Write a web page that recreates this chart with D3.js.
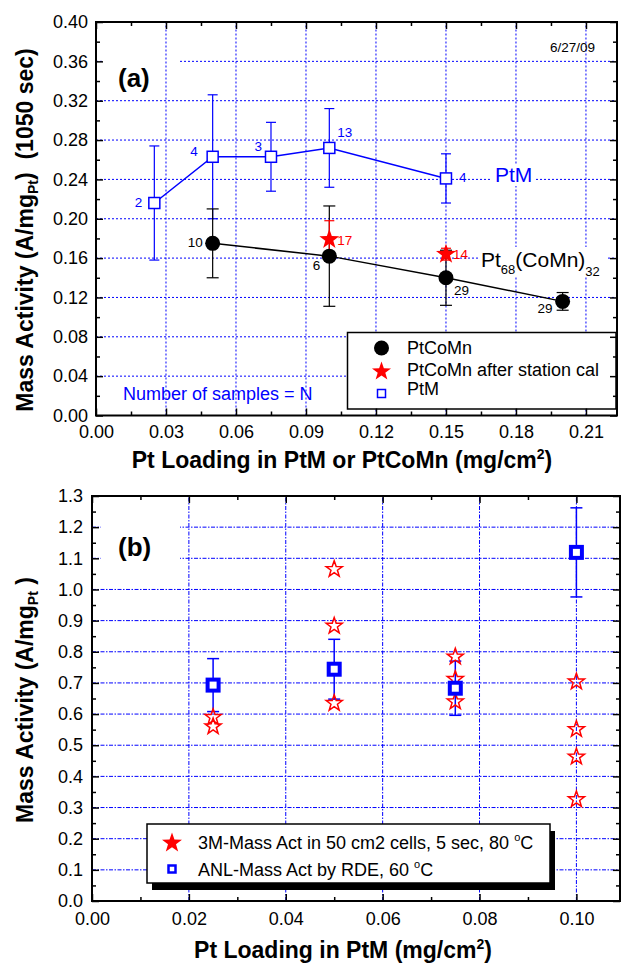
<!DOCTYPE html>
<html>
<head>
<meta charset="utf-8">
<script src="https://cdnjs.cloudflare.com/ajax/libs/d3/7.8.5/d3.min.js"></script>
<style>
body { margin: 0; background: #fff; }
svg { font-family: "Liberation Sans", Arial, sans-serif; }
text { white-space: pre; }
</style>
</head>
<body>
<svg id="chart" width="621" height="963"></svg>
<script>
// ---- panel (a) data ----
var ptmX = [0.025, 0.05, 0.075, 0.1, 0.15];
var ptmY = [0.216, 0.263, 0.263, 0.272, 0.241];
var ptmErr = [0.058, 0.063, 0.035, 0.040, 0.025];
var ptmN = ["2", "4", "3", "13", "4"];

var ptcomnX = [0.05, 0.1, 0.15, 0.2];
var ptcomnY = [0.175, 0.162, 0.140, 0.116];
var ptcomnErr = [0.035, 0.051, 0.028, 0.009];
var ptcomnN = ["10", "6", "29", "29"];

var calX = [0.1, 0.15];
var calY = [0.179, 0.164];
var calErr = [0.019, 0.006];
var calN = ["17", "14"];

var aXTicks = [0, 0.03, 0.06, 0.09, 0.12, 0.15, 0.18, 0.21];
var aYTicks = [0, 0.04, 0.08, 0.12, 0.16, 0.20, 0.24, 0.28, 0.32, 0.36, 0.40];

// ---- panel (b) data ----
var rdeX = [0.025, 0.05, 0.075, 0.1];
var rdeY = [0.693, 0.744, 0.683, 1.119];
var rdeErr = [0.085, 0.096, 0.087, 0.143];

var cellX = [0.025, 0.025, 0.05, 0.05, 0.05, 0.075, 0.075, 0.075, 0.1, 0.1, 0.1, 0.1];
var cellY = [0.59, 0.56, 1.065, 0.883, 0.635, 0.784, 0.712, 0.640, 0.704, 0.551, 0.463, 0.326];

var bXTicks = [0, 0.02, 0.04, 0.06, 0.08, 0.10];
var bYTicks = [0, 0.1, 0.2, 0.3, 0.4, 0.5, 0.6, 0.7, 0.8, 0.9, 1.0, 1.1, 1.2, 1.3];

var blue = "#0000ff", red = "#ff0000";
var svg = d3.select("#chart");

function starPath(R) {
  var r = R * 0.4, pts = [];
  for (var i = 0; i < 10; i++) {
    var a = -Math.PI / 2 + i * Math.PI / 5;
    var rr = i % 2 ? r : R;
    pts.push([rr * Math.cos(a), rr * Math.sin(a)]);
  }
  return "M" + pts.join("L") + "Z";
}

// frame + ticks on all 4 sides, pointing inward
function drawAxes(x, y, xMajor, xMinor, yMajor, yMinor, xFmt, yFmt, xPad, yPad) {
  var x0 = x.range()[0], x1 = x.range()[1], y0 = y.range()[0], y1 = y.range()[1];
  var g = svg.append("g");
  function ax(gen, tr, vals, size, labels, pad) {
    var a = gen.tickValues(vals).tickSizeInner(-size).tickSizeOuter(0).tickPadding(pad || 3);
    if (!labels) a.tickFormat("");
    var s = g.append("g").attr("transform", tr).call(a);
    s.select(".domain").remove();
    s.selectAll("line").attr("stroke", "#000").attr("stroke-width", 1.5);
    s.selectAll("text").attr("font-size", 18).attr("fill", "#000")
      .attr("font-family", '"Liberation Sans", Arial, sans-serif');
    return s;
  }
  ax(d3.axisBottom(x), "translate(0," + y0 + ")", xMajor, 7, true, xPad).selectAll("text").text(function(d) { return xFmt(d); });
  ax(d3.axisBottom(x), "translate(0," + y0 + ")", xMinor, 4);
  ax(d3.axisTop(x), "translate(0," + y1 + ")", xMajor, 7);
  ax(d3.axisTop(x), "translate(0," + y1 + ")", xMinor, 4);
  ax(d3.axisLeft(y), "translate(" + x0 + ",0)", yMajor, 7, true, yPad).selectAll("text").text(function(d) { return yFmt(d); });
  ax(d3.axisLeft(y), "translate(" + x0 + ",0)", yMinor, 4);
  ax(d3.axisRight(y), "translate(" + x1 + ",0)", yMajor, 7);
  ax(d3.axisRight(y), "translate(" + x1 + ",0)", yMinor, 4);
  g.append("rect").attr("x", x0).attr("y", y1).attr("width", x1 - x0).attr("height", y0 - y1)
    .attr("fill", "none").attr("stroke", "#000").attr("stroke-width", 2);
}

function hGrid(x, y, vals, dash) {
  svg.append("g").selectAll("line").data(vals).join("line")
    .attr("x1", x.range()[0]).attr("x2", x.range()[1])
    .attr("y1", function(d) { return y(d); }).attr("y2", function(d) { return y(d); })
    .attr("stroke", blue).attr("stroke-width", 1).attr("stroke-dasharray", dash);
}
function vGrid(x, y, vals, dash) {
  svg.append("g").selectAll("line").data(vals).join("line")
    .attr("y1", y.range()[0]).attr("y2", y.range()[1])
    .attr("x1", function(d) { return x(d); }).attr("x2", function(d) { return x(d); })
    .attr("stroke", blue).attr("stroke-width", 1).attr("stroke-dasharray", dash);
}

function errBars(x, y, xs, ys, errs, color, cap, w) {
  var g = svg.append("g").attr("stroke", color).attr("stroke-width", w || 1.2);
  xs.forEach(function(xv, i) {
    var px = x(xv), top = y(ys[i] + errs[i]), bot = y(ys[i] - errs[i]);
    g.append("line").attr("x1", px).attr("x2", px).attr("y1", top).attr("y2", bot);
    g.append("line").attr("x1", px - cap).attr("x2", px + cap).attr("y1", top).attr("y2", top);
    g.append("line").attr("x1", px - cap).attr("x2", px + cap).attr("y1", bot).attr("y2", bot);
  });
}

function whiteBox(x, y, w, h) {
  svg.append("rect").attr("x", x).attr("y", y).attr("width", w).attr("height", h).attr("fill", "#fff");
}

// =================== panel (a) ===================
var xa = d3.scaleLinear().domain([0, 0.2233]).range([96, 617]);
var ya = d3.scaleLinear().domain([0, 0.4]).range([415.5, 22]);

hGrid(xa, ya, aYTicks.slice(1, -1), "2,2");
whiteBox(104, 50, 76, 42); // behind "(a)"
vGrid(xa, ya, aXTicks.slice(1), "2,2");
whiteBox(478, 247, 128, 30); // behind Pt68(CoMn)32
whiteBox(490, 164, 46, 22);  // behind PtM

var ptmLine = d3.line().x(function(d) { return xa(d[0]); }).y(function(d) { return ya(d[1]); });
svg.append("path").attr("d", ptmLine(d3.zip(ptmX, ptmY)))
  .attr("fill", "none").attr("stroke", blue).attr("stroke-width", 1.5);
svg.append("path").attr("d", ptmLine(d3.zip(ptcomnX, ptcomnY)))
  .attr("fill", "none").attr("stroke", "#000").attr("stroke-width", 1.5);

errBars(xa, ya, ptmX, ptmY, ptmErr, blue, 5);
errBars(xa, ya, ptcomnX, ptcomnY, ptcomnErr, "#000", 6);
errBars(xa, ya, calX, calY, calErr, red, 5);

svg.append("g").selectAll("rect").data(d3.zip(ptmX, ptmY)).join("rect")
  .attr("x", function(d) { return xa(d[0]) - 5.5; }).attr("y", function(d) { return ya(d[1]) - 5.5; })
  .attr("width", 11).attr("height", 11).attr("fill", "#fff").attr("stroke", blue).attr("stroke-width", 1.5);
svg.append("g").selectAll("circle").data(d3.zip(ptcomnX, ptcomnY)).join("circle")
  .attr("cx", function(d) { return xa(d[0]); }).attr("cy", function(d) { return ya(d[1]); })
  .attr("r", 7.5).attr("fill", "#000");
svg.append("g").selectAll("path").data(d3.zip(calX, calY)).join("path")
  .attr("d", starPath(10.5))
  .attr("transform", function(d) { return "translate(" + xa(d[0]) + "," + ya(d[1]) + ")"; })
  .attr("fill", red);

// sample count labels (offsets picked per point)
var ptmOff = [[-12, 4, "end"], [-15, -1, "end"], [-9, -6, "end"], [8, -11, "start"], [13, 4, "start"]];
var ptcomnOff = [[-10, 4, "end"], [-9, 14, "end"], [8, 17, "start"], [-10, 12, "end"]];
var calOff = [[8, 6, "start"], [7, 5, "start"]];
function countLabels(xs, ys, labs, offs, color) {
  svg.append("g").selectAll("text").data(labs).join("text")
    .attr("x", function(d, i) { return xa(xs[i]) + offs[i][0]; })
    .attr("y", function(d, i) { return ya(ys[i]) + offs[i][1]; })
    .attr("text-anchor", function(d, i) { return offs[i][2]; })
    .attr("font-size", 13.5).attr("fill", color).text(function(d) { return d; });
}
countLabels(ptmX, ptmY, ptmN, ptmOff, blue);
countLabels(ptcomnX, ptcomnY, ptcomnN, ptcomnOff, "#000");
countLabels(calX, calY, calN, calOff, red);

var ptLab = svg.append("text").attr("x", 481).attr("y", 267).attr("font-size", 21).attr("fill", "#000");
ptLab.append("tspan").text("Pt");
ptLab.append("tspan").attr("font-size", 13).attr("dy", 7).text("68");
ptLab.append("tspan").attr("dy", -7).text("(CoMn)");
ptLab.append("tspan").attr("font-size", 13).attr("dy", 9).text("32");

svg.append("text").attr("x", 495).attr("y", 181.5).attr("font-size", 21).attr("fill", blue).text("PtM");
svg.append("text").attr("x", 118).attr("y", 87).attr("font-size", 26).attr("font-weight", "bold").text("(a)");
svg.append("text").attr("x", 550).attr("y", 52).attr("font-size", 13.5).text("6/27/09");
svg.append("text").attr("x", 123).attr("y", 400).attr("font-size", 18).attr("fill", blue).text("Number of samples = N");

// legend (a)
svg.append("rect").attr("x", 347.5).attr("y", 332.5).attr("width", 268.5).attr("height", 76.5)
  .attr("fill", "#fff").attr("stroke", "#000").attr("stroke-width", 1.5);
svg.append("circle").attr("cx", 381.5).attr("cy", 348).attr("r", 7.5).attr("fill", "#000");
svg.append("path").attr("d", starPath(10)).attr("transform", "translate(381.5,371.5)").attr("fill", red);
svg.append("rect").attr("x", 377.5).attr("y", 389.5).attr("width", 8).attr("height", 8)
  .attr("fill", "#fff").attr("stroke", blue).attr("stroke-width", 1.5);
var legA = ["PtCoMn", "PtCoMn after station cal", "PtM"];
var legAy = [354, 376, 395];
svg.append("g").selectAll("text").data(legA).join("text")
  .attr("x", 407).attr("y", function(d, i) { return legAy[i]; }).attr("font-size", 18).text(function(d) { return d; });

drawAxes(xa, ya, aXTicks, d3.range(0.015, 0.223, 0.03), aYTicks, d3.range(0.02, 0.4, 0.04),
  d3.format(".2f"), d3.format(".2f"), 10, 8);

var yLabA = svg.append("text").attr("transform", "translate(33,230) rotate(-90)")
  .attr("text-anchor", "middle").attr("font-size", 23).attr("font-weight", "bold");
yLabA.append("tspan").text("Mass Activity (A/mg");
yLabA.append("tspan").attr("font-size", 14).attr("dy", 5).text("Pt");
yLabA.append("tspan").attr("dy", -5).text(")  (1050 sec)");

var xLabA = svg.append("text").attr("x", 342).attr("y", 468)
  .attr("text-anchor", "middle").attr("font-size", 23).attr("font-weight", "bold");
xLabA.append("tspan").text("Pt Loading in PtM or PtCoMn (mg/cm");
xLabA.append("tspan").attr("font-size", 14).attr("dy", -9).text("2");
xLabA.append("tspan").attr("dy", 9).text(")");

// =================== panel (b) ===================
var xb = d3.scaleLinear().domain([0, 0.109]).range([92, 620]);
var yb = d3.scaleLinear().domain([0, 1.3]).range([901, 496]);

hGrid(xb, yb, bYTicks.slice(1, -1), "4,1.5,1.5,1.5");
whiteBox(101, 512, 79, 60); // behind "(b)"
vGrid(xb, yb, bXTicks.slice(1), "4,1.5,1.5,1.5");

errBars(xb, yb, rdeX, rdeY, rdeErr, blue, 6, 1.5);

svg.append("g").selectAll("path").data(d3.zip(cellX, cellY)).join("path")
  .attr("d", starPath(8.5))
  .attr("transform", function(d) { return "translate(" + xb(d[0]) + "," + yb(d[1]) + ")"; })
  .attr("fill", "none").attr("stroke", red).attr("stroke-width", 1.5);

svg.append("g").selectAll("rect").data(d3.zip(rdeX, rdeY)).join("rect")
  .attr("x", function(d) { return xb(d[0]) - 5.5; }).attr("y", function(d) { return yb(d[1]) - 5.5; })
  .attr("width", 11).attr("height", 11).attr("fill", "#fff").attr("stroke", blue).attr("stroke-width", 4);

svg.append("text").attr("x", 118).attr("y", 556).attr("font-size", 26).attr("font-weight", "bold").text("(b)");

// legend (b) with drop shadow
svg.append("rect").attr("x", 152).attr("y", 831).attr("width", 403).attr("height", 59).attr("fill", "#000");
svg.append("rect").attr("x", 147).attr("y", 824).attr("width", 403).attr("height", 59)
  .attr("fill", "#fff").attr("stroke", "#000").attr("stroke-width", 1.5);
svg.append("path").attr("d", starPath(10.5)).attr("transform", "translate(172,843)").attr("fill", red);
svg.append("rect").attr("x", 168.5).attr("y", 865.5).attr("width", 7).attr("height", 7)
  .attr("fill", "#fff").attr("stroke", blue).attr("stroke-width", 2.5);
var legB = ["3M-Mass Act in 50 cm2 cells, 5 sec, 80 ", "ANL-Mass Act by RDE, 60 "];
var legBy = [849, 876];
legB.forEach(function(s, i) {
  var t = svg.append("text").attr("x", 198).attr("y", legBy[i]).attr("font-size", 18);
  t.append("tspan").text(s);
  t.append("tspan").attr("font-size", 11).attr("dy", -8).text("o");
  t.append("tspan").attr("dy", 8).text("C");
});

drawAxes(xb, yb, bXTicks, d3.range(0.01, 0.109, 0.02), bYTicks, d3.range(0.05, 1.3, 0.1),
  d3.format(".2f"), d3.format(".1f"), 11, 9);

var yLabB = svg.append("text").attr("transform", "translate(33,700) rotate(-90)")
  .attr("text-anchor", "middle").attr("font-size", 23).attr("font-weight", "bold");
yLabB.append("tspan").text("Mass Activity (A/mg");
yLabB.append("tspan").attr("font-size", 14).attr("dy", 5).text("Pt");
yLabB.append("tspan").attr("dy", -5).text(" )");

var xLabB = svg.append("text").attr("x", 343).attr("y", 958)
  .attr("text-anchor", "middle").attr("font-size", 23).attr("font-weight", "bold");
xLabB.append("tspan").text("Pt Loading in PtM (mg/cm");
xLabB.append("tspan").attr("font-size", 14).attr("dy", -9).text("2");
xLabB.append("tspan").attr("dy", 9).text(")");
</script>
</body>
</html>
